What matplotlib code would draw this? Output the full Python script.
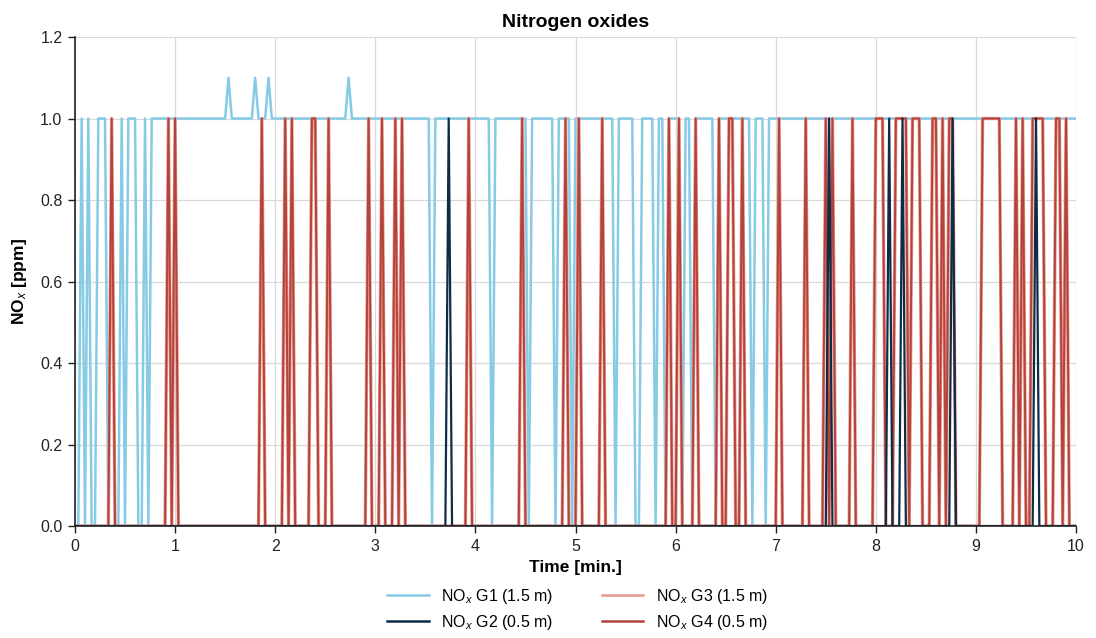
import numpy as np
import matplotlib
matplotlib.use("Agg")
import matplotlib.pyplot as plt

plt.rcParams["font.family"] = ["Liberation Sans", "DejaVu Sans"]
plt.rcParams["mathtext.fontset"] = "custom"
plt.rcParams["mathtext.rm"] = "Liberation Sans"
plt.rcParams["mathtext.it"] = "Liberation Sans:italic"
plt.rcParams["mathtext.bf"] = "Liberation Sans:bold"

# Sensor log: one reading every 2 s over 10 minutes
sample_seconds = np.arange(0, 602, 2)

# G1 (1.5 m): reads 1.0 ppm except where listed
g1_zero_s = [0, 2, 6, 10, 12, 20, 22, 24, 26, 30, 38, 40, 44,
             214, 250, 272, 288, 298, 324, 336, 338, 348, 354,
             364, 370, 384, 406, 414]
g1_peak_s = [92, 108, 116, 164]          # readings of 1.1 ppm

# G2 (0.5 m): reads 0 except these 1.0 ppm readings
g2_high_s = [224, 452, 488, 496, 526, 576]

# G3 (1.5 m): 1.0 ppm readings
g3_high_s = [22, 56, 60, 112, 126, 130, 142, 144, 152, 176, 184, 192, 196,
             236, 268, 294, 302, 316, 356, 362, 372, 386, 392, 394, 400,
             422, 438, 450, 454, 466, 480, 482, 484, 492, 494, 496, 498,
             502, 504, 506, 514, 516, 520, 524, 526, 544, 546, 548, 550,
             552, 554, 564, 568, 574, 576, 578, 580, 588, 590, 594]

# G4 (0.5 m): 1.0 ppm readings
g4_high_s = [22, 56, 60, 112, 126, 130, 142, 144, 152, 176, 184, 192, 196,
             236, 268, 294, 302, 316, 356, 362, 372, 386, 392, 394, 400,
             422, 438, 450, 454, 466, 480, 482, 484, 492, 494, 496, 498,
             502, 504, 506, 514, 516, 520, 524, 526, 544, 546, 548, 550,
             552, 554, 564, 568, 574, 576, 578, 580, 588, 590, 594]

labels = [r"NO$_x$ G1 (1.5 m)", r"NO$_x$ G2 (0.5 m)",
          r"NO$_x$ G3 (1.5 m)", r"NO$_x$ G4 (0.5 m)"]
colors = ["#86cbe6", "#0c2c47", "#e9968e", "#b3443b"]

x_ticks = list(range(0, 11))
y_ticks = [0.0, 0.2, 0.4, 0.6, 0.8, 1.0, 1.2]

t_min = sample_seconds / 60.0

g1 = np.ones(len(sample_seconds))
g1[np.isin(sample_seconds, g1_zero_s)] = 0.0
g1[np.isin(sample_seconds, g1_peak_s)] = 1.1
g2 = np.where(np.isin(sample_seconds, g2_high_s), 1.0, 0.0)
g3 = np.where(np.isin(sample_seconds, g3_high_s), 1.0, 0.0)
g4 = np.where(np.isin(sample_seconds, g4_high_s), 1.0, 0.0)

fig = plt.figure(figsize=(10.96, 6.38), dpi=100)
ax = fig.add_axes([0.0684, 0.1755, 0.9134, 0.7665])

lines = {}
lines["g1"], = ax.plot(t_min, g1, color=colors[0], lw=1.8, label=labels[0], zorder=3)
lines["g3"], = ax.plot(t_min, g3, color=colors[2], lw=2.4, label=labels[2], zorder=4)
lines["g4"], = ax.plot(t_min, g4, color=colors[3], lw=1.4, label=labels[3], zorder=5)
lines["g2"], = ax.plot(t_min, g2, color=colors[1], lw=1.6, label=labels[1], zorder=6)

ax.set_xlim(0, 10)
ax.set_ylim(0, 1.2)
ax.set_xticks(x_ticks)
ax.set_yticks(y_ticks)
ax.set_yticklabels([f"{v:.1f}" for v in y_ticks])
ax.tick_params(axis="both", labelsize=11.5, length=5, width=1.0, color="#222222",
               labelcolor="#222222", pad=4)
ax.grid(True, color="#d9d9d9", lw=0.9, zorder=0)
ax.set_axisbelow(True)
for side in ("top", "right"):
    ax.spines[side].set_visible(False)
for side in ("left", "bottom"):
    ax.spines[side].set_color("#222222")
    ax.spines[side].set_linewidth(1.2)
    ax.spines[side].set_zorder(7)

ax.set_title("Nitrogen oxides", fontsize=14, fontweight="bold", pad=7)
ax.set_xlabel("Time [min.]", fontsize=12.5, fontweight="bold", labelpad=5)
ax.set_ylabel(r"NO$_x$ [ppm]", fontsize=12.5, fontweight="bold", labelpad=8)

handles = [lines["g1"], lines["g2"], lines["g3"], lines["g4"]]
leg = fig.legend(handles, [h.get_label() for h in handles], ncol=2,
                 loc="upper center", bbox_to_anchor=(0.527, 0.103),
                 frameon=False, fontsize=11.5, handlelength=2.6,
                 columnspacing=3.0, labelspacing=0.45, handletextpad=0.8)
for h in leg.legend_handles:
    h.set_linewidth(1.8)

fig.savefig("out.png", dpi=100)
